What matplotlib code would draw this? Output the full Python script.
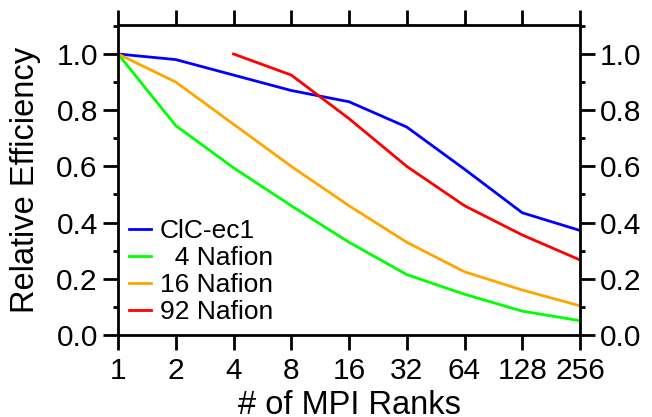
import matplotlib.pyplot as plt
from matplotlib.ticker import FixedLocator, MultipleLocator

plt.rcParams['font.family'] = ['Liberation Sans', 'DejaVu Sans']

# MPI rank counts and relative efficiency per system
ranks = [1, 2, 4, 8, 16, 32, 64, 128, 256]
clc_ec1 = [1.0, 0.98, 0.925, 0.87, 0.83, 0.74, 0.59, 0.435, 0.372]
nafion_4 = [1.0, 0.745, 0.595, 0.46, 0.33, 0.215, 0.145, 0.085, 0.051]
nafion_16 = [1.0, 0.90, 0.75, 0.60, 0.46, 0.33, 0.225, 0.16, 0.104]
ranks_92 = [4, 8, 16, 32, 64, 128, 256]
nafion_92 = [1.0, 0.925, 0.77, 0.60, 0.46, 0.356, 0.267]

fig = plt.figure(figsize=(6.52, 4.17), dpi=100)
ax = fig.add_axes([0.181, 0.1966, 0.7086, 0.7434])

lw = 2.0
ax.plot(ranks, clc_ec1, color='#0000ff', lw=lw, label='ClC-ec1')
ax.plot(ranks, nafion_4, color='#00ff00', lw=lw, label='  4 Nafion')
ax.plot(ranks, nafion_16, color='#ffa500', lw=lw, label='16 Nafion')
ax.plot(ranks_92, nafion_92, color='#ff0000', lw=lw, label='92 Nafion')

ax.set_xscale('log', base=2)
ax.set_xlim(1, 256)
ax.xaxis.set_major_locator(FixedLocator(ranks))
ax.xaxis.set_minor_locator(FixedLocator([]))
ax.set_xticklabels([str(r) for r in ranks])

ax.set_ylim(0, 1.103)
ax.yaxis.set_major_locator(MultipleLocator(0.2))
ax.yaxis.set_minor_locator(MultipleLocator(0.1))
ax.yaxis.set_major_formatter(plt.FormatStrFormatter('%.1f'))

for s in ax.spines.values():
    s.set_linewidth(2.0)

ax.tick_params(axis='both', which='major', direction='out', length=10.5, width=2.0,
               labelsize=21.5)
ax.tick_params(axis='y', which='minor', direction='out', length=3.5, width=2.0)
ax.tick_params(axis='x', top=True, pad=5)
ax.tick_params(axis='y', which='both', right=True, labelright=True, pad=4)

ax.set_xlabel('# of MPI Ranks', fontsize=23.5, labelpad=4)
ax.set_ylabel('Relative Efficiency', fontsize=23.5, labelpad=11)

ax.legend(loc='lower left', bbox_to_anchor=(0.0, 0.0), frameon=False,
          fontsize=19, handlelength=0.85, handletextpad=0.34,
          labelspacing=0.12, borderaxespad=0.0)

fig.savefig('out.png', dpi=100)
